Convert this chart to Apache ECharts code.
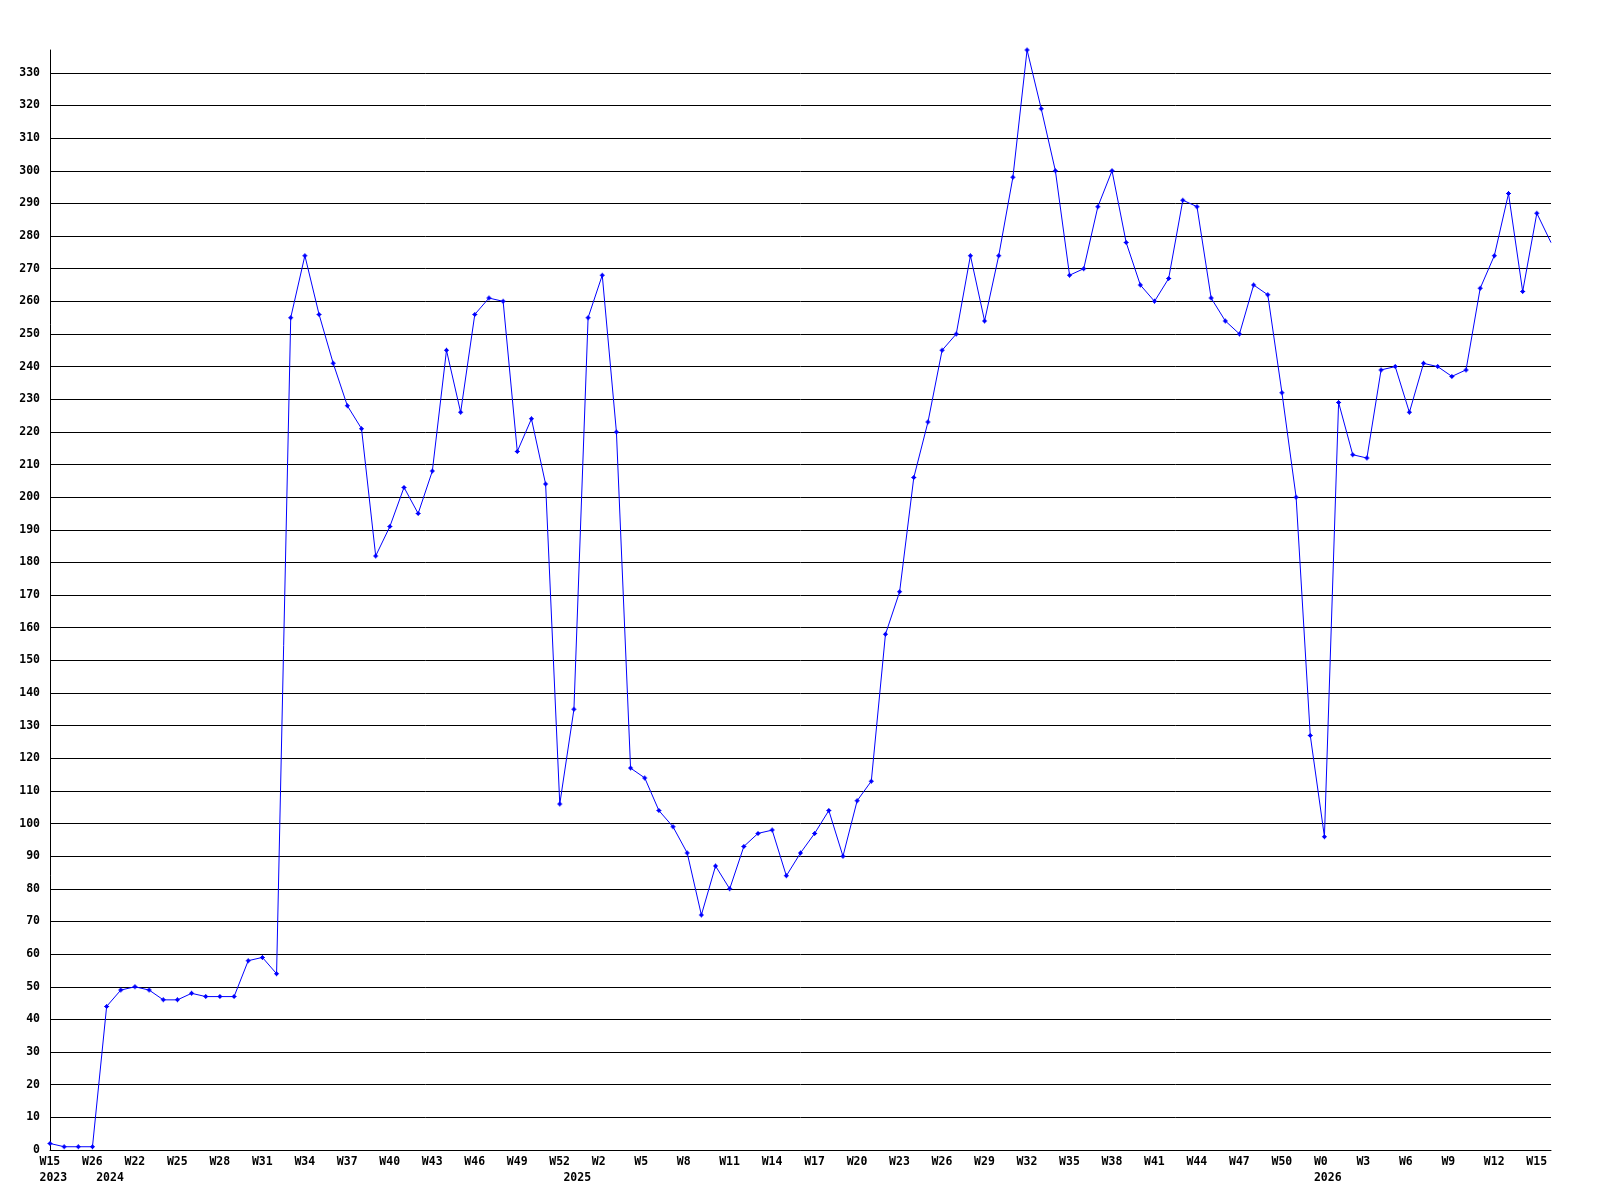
<!DOCTYPE html>
<html>
<head>
<meta charset="utf-8">
<style>
  html, body { margin: 0; padding: 0; background: #ffffff; }
  #chart { width: 1600px; height: 1200px; }
</style>
<script src="https://cdn.jsdelivr.net/npm/echarts@6/dist/echarts.min.js"></script>
</head>
<body>
<div id="chart"></div>
<script>
// Week categories (one per point)
const weeks = [
  'W15','W19','W22','W26',
  'W20','W21','W22','W23','W24','W25','W26','W27','W28','W29','W30','W31','W32','W33','W34','W35','W36','W37','W38','W39','W40','W41','W42','W43','W44','W45','W46','W47','W48','W49','W50','W51','W52',
  'W0','W1','W2','W3','W4','W5','W6','W7','W8','W9','W10','W11','W12','W13','W14','W15','W16','W17','W18','W19','W20','W21','W22','W23','W24','W25','W26','W27','W28','W29','W30','W31','W32','W33','W34','W35','W36','W37','W38','W39','W40','W41','W42','W43','W44','W45','W46','W47','W48','W49','W50','W51','W52',
  'W0','W1','W2','W3','W4','W5','W6','W7','W8','W9','W10','W11','W12','W13','W14','W15','W16'
];

// Year markers: index of first week of each year, and its label
const yearStarts = [0, 4, 37, 90];
const yearNames = ['2023', '2024', '2025', '2026'];

// Series values
const values = [
  2, 1, 1, 1, 44, 49, 50, 49, 46, 46,
  48, 47, 47, 47, 58, 59, 54, 255, 274, 256,
  241, 228, 221, 182, 191, 203, 195, 208, 245, 226,
  256, 261, 260, 214, 224, 204, 106, 135, 255, 268,
  220, 117, 114, 104, 99, 91, 72, 87, 80, 93,
  97, 98, 84, 91, 97, 104, 90, 107, 113, 158,
  171, 206, 223, 245, 250, 274, 254, 274, 298, 337,
  319, 300, 268, 270, 289, 300, 278, 265, 260, 267,
  291, 289, 261, 254, 250, 265, 262, 232, 200, 127,
  96, 229, 213, 212, 239, 240, 226, 241, 240, 237,
  239, 264, 274, 293, 263, 287, 278
];

const yearLabels = weeks.map((w, i) => {
  const k = yearStarts.indexOf(i);
  return k >= 0 ? yearNames[k] : '';
});

const FONT = 'DejaVu Sans Mono';
const labelRich = { w: { width: 21, align: 'left', fontFamily: FONT, fontSize: 11.5, fontWeight: 'bold', color: '#000' } };

const seriesData = values.map((v, i) => i === values.length - 1 ? { value: v, symbol: 'none' } : v);

const chart = echarts.init(document.getElementById('chart'), null, { renderer: 'canvas' });
chart.setOption({
  backgroundColor: '#ffffff',
  animation: false,
  grid: { left: 50, right: 49, top: 50, bottom: 50, containLabel: false },
  xAxis: [
    {
      type: 'category',
      data: weeks,
      boundaryGap: false,
      position: 'bottom',
      axisLine: { show: true, lineStyle: { color: '#000', width: 1 } },
      axisTick: { show: false },
      splitLine: { show: false },
      axisLabel: {
        interval: 2,
        margin: 6,
        formatter: (v) => '{w|' + v + '}',
        rich: labelRich
      }
    },
    {
      type: 'category',
      data: yearLabels,
      boundaryGap: false,
      position: 'bottom',
      axisLine: { show: false },
      axisTick: { show: false },
      splitLine: { show: false },
      axisLabel: {
        interval: 0,
        margin: 22,
        formatter: (v) => v ? '{w|' + v + '}' : '',
        rich: labelRich
      }
    }
  ],
  yAxis: {
    type: 'value',
    min: 0,
    max: Math.max.apply(null, values),
    interval: 10,
    axisLine: { show: true, lineStyle: { color: '#000', width: 1 } },
    axisTick: { show: false },
    splitLine: { show: true, showMaxLine: false, lineStyle: { color: '#000', width: 1 } },
    axisLabel: {
      margin: 10,
      showMaxLabel: false,
      fontFamily: FONT,
      fontSize: 11.5,
      fontWeight: 'bold',
      color: '#000'
    }
  },
  series: [{
    type: 'line',
    data: seriesData,
    xAxisIndex: 0,
    symbol: 'path://M2,0H3V1H4V2H5V3H4V4H3V5H2V4H1V3H0V2H1V1H2Z',
    symbolSize: 5,
    showAllSymbol: true,
    itemStyle: { color: '#0000ff' },
    lineStyle: { color: '#0000ff', width: 1 },
    smooth: false
  }]
});
</script>
</body>
</html>
